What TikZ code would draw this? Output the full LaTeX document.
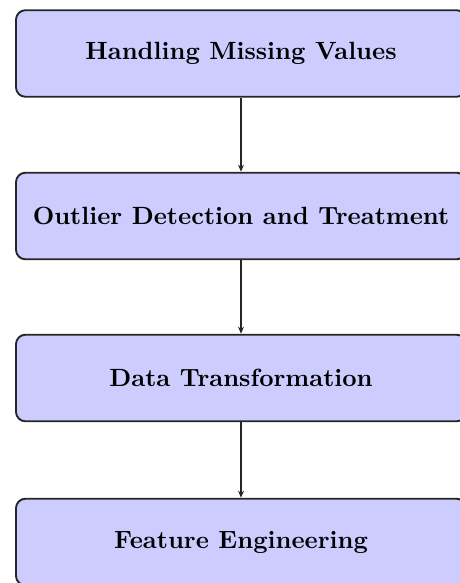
\documentclass[tikz,border=0pt]{standalone}
\usetikzlibrary{arrows.meta}
\begin{document}
\begin{tikzpicture}[x=0.425pt, y=-0.425pt,
  stagebox/.style={draw=black!85, line width=0.8pt, fill=blue!20, rounded corners=4pt,
    minimum width=191.25pt, minimum height=36.8pt, inner sep=0pt,
    font=\fontsize{10.6}{12.7}\selectfont\bfseries},
  flow/.style={-{Stealth[length=3pt,width=2.5pt]}, line width=0.6pt, draw=black!85}]
  \useasboundingbox (0,0) rectangle (460,583);
  \node[stagebox] (s1) at (241,53.5) {Handling Missing Values};
  \node[stagebox] (s2) at (241,216) {Outlier Detection and Treatment};
  \node[stagebox] (s3) at (241,378) {Data Transformation};
  \node[stagebox] (s4) at (241,542) {Feature Engineering};
  \draw[flow] (s1) -- (s2);
  \draw[flow] (s2) -- (s3);
  \draw[flow] (s3) -- (s4);
\end{tikzpicture}
\end{document}
